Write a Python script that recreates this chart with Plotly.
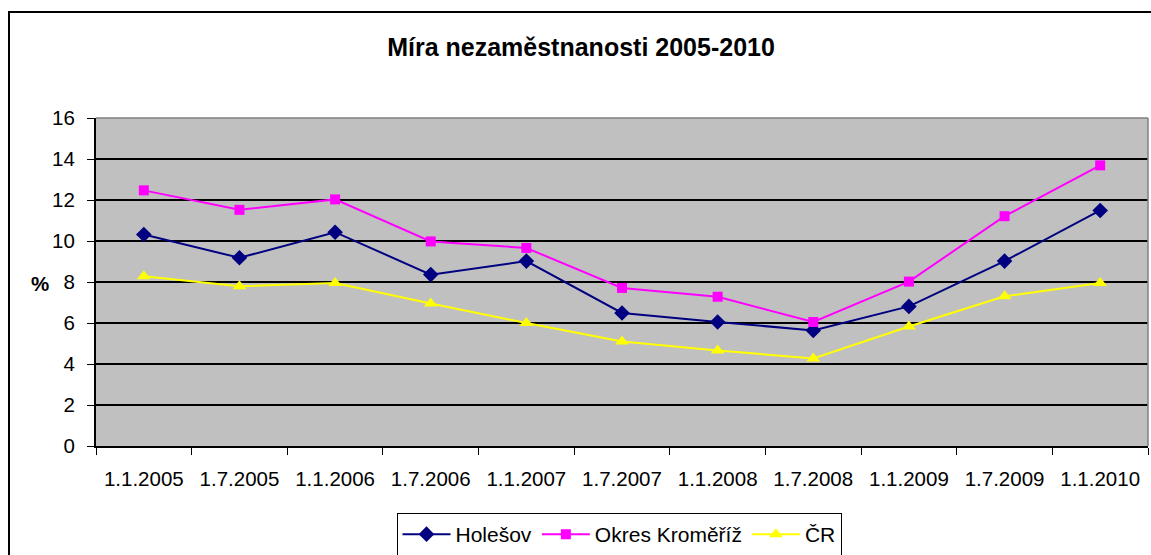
import plotly.graph_objects as go

categories = ["1.1.2005", "1.7.2005", "1.1.2006", "1.7.2006", "1.1.2007", "1.7.2007",
              "1.1.2008", "1.7.2008", "1.1.2009", "1.7.2009", "1.1.2010"]
holesov = [10.32, 9.18, 10.43, 8.36, 9.02, 6.49, 6.05, 5.64, 6.81, 9.02, 11.49]
okres_kromeriz = [12.47, 11.52, 12.03, 9.98, 9.66, 7.71, 7.28, 6.05, 8.02, 11.21, 13.69]
cr = [8.28, 7.79, 7.95, 6.95, 6.0, 5.1, 4.66, 4.27, 5.83, 7.3, 7.95]

FONT = "Liberation Sans, Arial, sans-serif"

fig = go.Figure()
fig.add_trace(go.Scatter(x=categories, y=holesov, name="Holešov", mode="lines+markers",
                         line=dict(color="#000080", width=2),
                         marker=dict(symbol="diamond", size=12, color="#000080")))
fig.add_trace(go.Scatter(x=categories, y=okres_kromeriz, name="Okres Kroměříž", mode="lines+markers",
                         line=dict(color="#FF00FF", width=2),
                         marker=dict(symbol="square", size=10, color="#FF00FF")))
fig.add_trace(go.Scatter(x=categories, y=cr, name="ČR", mode="lines+markers",
                         line=dict(color="#FFFF00", width=2),
                         marker=dict(symbol="triangle-up", size=12, color="#FFFF00")))

L, R, T, B = 96, 3, 118, 109
W, H = 1151, 555
pw, ph = W - L - R, H - T - B

fig.update_layout(
    width=W, height=H,
    margin=dict(l=L, r=R, t=T, b=B, pad=0, autoexpand=False),
    paper_bgcolor="white",
    plot_bgcolor="#C0C0C0",
    font=dict(family=FONT, size=20.5, color="black"),
    title=dict(text="<b>Míra nezaměstnanosti 2005-2010</b>", x=581 / W, xanchor="center",
               y=1 - 47 / H, yanchor="middle", font=dict(size=25, family=FONT)),
    showlegend=True,
    legend=dict(orientation="h", x=(619 - L) / pw, xanchor="center", y=(446 - 513) / ph, yanchor="top",
                bgcolor="white", bordercolor="black", borderwidth=1, itemwidth=48,
                font=dict(size=21, family=FONT), tracegroupgap=0),
    xaxis=dict(type="category", tickson="boundaries", ticks="outside", ticklen=7, tickcolor="black",
               tickwidth=1, showline=True, linecolor="black", linewidth=2, showgrid=False,
               range=[-0.5, 10.5], ticklabelstandoff=13, tickfont=dict(size=20.5), automargin=False),
    yaxis=dict(range=[0, 16], dtick=2, ticks="outside", ticklen=7, tickcolor="black", tickwidth=1,
               showline=True, linecolor="black", linewidth=2, showgrid=True, gridcolor="black",
               gridwidth=1.5, zeroline=False, ticklabelstandoff=8, tickfont=dict(size=20.5),
               automargin=False),
    shapes=[
        dict(type="rect", xref="paper", yref="paper", x0=(9 - L) / pw, x1=1.2,
             y0=-1, y1=(446 - 12) / ph, line=dict(color="black", width=2), layer="below",
             fillcolor="rgba(0,0,0,0)"),
        dict(type="line", xref="paper", yref="paper", x0=0, x1=1, y0=1, y1=1,
             line=dict(color="#808080", width=1.5), layer="above"),
        dict(type="line", xref="paper", yref="paper", x0=1, x1=1, y0=0, y1=1,
             line=dict(color="#808080", width=1.5), layer="above"),
    ],
    annotations=[
        dict(text="<b>%</b>", xref="paper", yref="paper", x=(40 - L) / pw, y=(446 - 283) / ph,
             showarrow=False, xanchor="center", yanchor="middle", font=dict(size=20.5, family=FONT)),
    ],
)

fig.write_html("out.html", config={"displayModeBar": False},
               post_script="document.body.style.margin='0';document.body.style.overflow='hidden';")
